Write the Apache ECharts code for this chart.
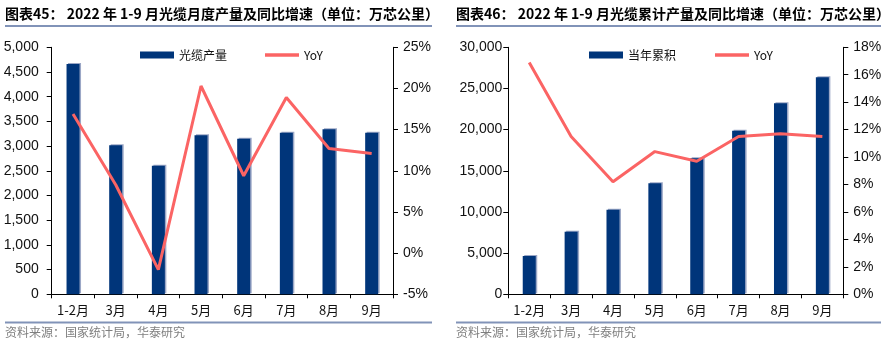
<!DOCTYPE html>
<html><head><meta charset="utf-8">
<script src="https://cdn.jsdelivr.net/npm/echarts@6/dist/echarts.min.js"></script>
<style>html,body{margin:0;padding:0;background:#fff}#c{width:893px;height:345px}</style>
</head><body><div id="c"></div>
<script>
const categories = ['1-2月','3月','4月','5月','6月','7月','8月','9月'];
const monthlyOutput = [4662, 3016, 2603, 3219, 3150, 3271, 3340, 3271];
const monthlyYoY = [16.9, 8.3, -2.0, 20.3, 9.4, 18.9, 12.7, 12.1];
const cumOutput = [4652, 7603, 10276, 13482, 16518, 19870, 23198, 26356];
const cumYoY = [16.9, 11.5, 8.2, 10.4, 9.7, 11.5, 11.7, 11.5];
const leftTicks = {min: 0, max: 5000, interval: 500};
const leftPctTicks = {min: -5, max: 25, interval: 5};
const rightTicks = {min: 0, max: 30000, interval: 5000};
const rightPctTicks = {min: 0, max: 18, interval: 2};

const NUM = '"Liberation Sans", Arial, sans-serif';
const CJK = '"Noto Sans CJK SC", "Liberation Sans", sans-serif';
const BAR = '#00357a';
const LINE = '#fb6464';
const RULE = '#8193b8';
const LINE_ICON = 'path://M0,0L34,0L34,3.5L0,3.5Z';

const fmtComma = v => v.toLocaleString('en-US');
const fmtPct = v => v + '%';

function yAxisCfg(gi, pos, t, fmt, margin) {
  return {
    type: 'value', gridIndex: gi, position: pos, min: t.min, max: t.max, interval: t.interval,
    axisLine: {show: true, lineStyle: {color: '#000', width: 1}},
    axisTick: {show: true, length: 5, lineStyle: {color: '#000'}},
    splitLine: {show: false},
    axisLabel: {formatter: fmt, color: '#111', fontSize: 14, fontFamily: NUM, margin: margin}
  };
}
function xAxisCfg(gi) {
  return {
    type: 'category', gridIndex: gi, data: categories, boundaryGap: true,
    axisLine: {show: true, lineStyle: {color: '#000', width: 1}},
    axisTick: {show: true, length: 4, alignWithLabel: false, lineStyle: {color: '#000'}},
    axisLabel: {color: '#111', fontSize: 13, fontFamily: CJK, margin: 9, interval: 0}
  };
}
const barStyle = {color: BAR, shadowColor: '#9ba7c6', shadowOffsetX: 1.5, shadowOffsetY: -1, shadowBlur: 0};
const titleStyle = {fontSize: 14, fontWeight: 'bold', color: '#000', fontFamily: CJK};
const srcStyle = {fontSize: 12, fontWeight: 'normal', color: '#7f7f7f', fontFamily: CJK};

const chart = echarts.init(document.getElementById('c'), null, {renderer: 'canvas'});
chart.setOption({
  animation: false,
  title: [
    {text: '图表45： 2022 年 1-9 月光缆月度产量及同比增速（单位：万芯公里）', left: 5, top: 7, padding: 0, textStyle: titleStyle},
    {text: '图表46： 2022 年 1-9 月光缆累计产量及同比增速（单位：万芯公里）', left: 456, top: 7, padding: 0, textStyle: titleStyle},
    {text: '资料来源：国家统计局，华泰研究', left: 5, top: 326, padding: 0, textStyle: srcStyle},
    {text: '资料来源：国家统计局，华泰研究', left: 456, top: 326, padding: 0, textStyle: srcStyle}
  ],
  graphic: [
    {type: 'rect', shape: {x: 5, y: 25, width: 427, height: 2}, style: {fill: RULE}},
    {type: 'rect', shape: {x: 456, y: 25, width: 425, height: 2}, style: {fill: RULE}},
    {type: 'rect', shape: {x: 5, y: 321.5, width: 427, height: 2}, style: {fill: RULE}},
    {type: 'rect', shape: {x: 456, y: 321.5, width: 425, height: 2}, style: {fill: RULE}}
  ],
  legend: [
    {data: [{name: '光缆产量', icon: 'rect'}, {name: 'YoY', icon: LINE_ICON}],
     left: 140, top: 49, padding: 0, itemWidth: 34, itemHeight: 7, itemGap: 38,
     textStyle: {fontSize: 12, color: '#111', fontFamily: CJK}},
    {data: [{name: '当年累积', icon: 'rect'}, {name: 'YoY2', icon: LINE_ICON}],
     left: 589, top: 49, padding: 0, itemWidth: 34, itemHeight: 7, itemGap: 39,
     formatter: n => n === 'YoY2' ? 'YoY' : n,
     textStyle: {fontSize: 12, color: '#111', fontFamily: CJK}}
  ],
  grid: [
    {left: 51.7, top: 47.3, width: 341.3, height: 247, containLabel: false},
    {left: 508.3, top: 47.3, width: 335, height: 247, containLabel: false}
  ],
  xAxis: [xAxisCfg(0), xAxisCfg(1)],
  yAxis: [
    yAxisCfg(0, 'left', leftTicks, fmtComma, 13),
    yAxisCfg(0, 'right', leftPctTicks, fmtPct, 10),
    yAxisCfg(1, 'left', rightTicks, fmtComma, 6),
    yAxisCfg(1, 'right', rightPctTicks, fmtPct, 10)
  ],
  series: [
    {name: '光缆产量', type: 'bar', xAxisIndex: 0, yAxisIndex: 0, data: monthlyOutput, barWidth: 13, itemStyle: barStyle},
    {name: 'YoY', type: 'line', xAxisIndex: 0, yAxisIndex: 1, data: monthlyYoY, symbol: 'none',
     lineStyle: {color: LINE, width: 3}, itemStyle: {color: LINE}},
    {name: '当年累积', type: 'bar', xAxisIndex: 1, yAxisIndex: 2, data: cumOutput, barWidth: 13, itemStyle: barStyle},
    {name: 'YoY2', type: 'line', xAxisIndex: 1, yAxisIndex: 3, data: cumYoY, symbol: 'none',
     lineStyle: {color: LINE, width: 3}, itemStyle: {color: LINE}}
  ]
});
</script></body></html>
